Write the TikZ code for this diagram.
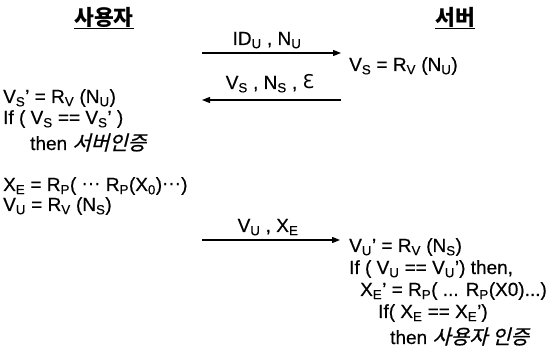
\documentclass[tikz,border=0pt]{standalone}
\usepackage{fontspec}
\setmainfont{Liberation Sans}[FakeBold=0.4]
\newfontfamily\kr{Noto Sans CJK KR}
\newfontfamily\krit{Noto Sans CJK KR}[FakeSlant=0.25,FakeBold=0.8]
\newfontfamily\dv{DejaVu Sans}
\usetikzlibrary{arrows.meta}
\newcommand{\lo}[1]{\textsubscript{#1}}
\begin{document}
\begin{tikzpicture}[x=1pt,y=-1pt,
  txt/.style={anchor=base west,inner sep=0pt,font=\fontsize{19}{22}\selectfont},
  lbl/.style={anchor=base,inner sep=0pt,font=\fontsize{19}{22}\selectfont},
  head/.style={anchor=base,inner sep=0pt,font=\fontsize{21.5}{24}\selectfont\kr\bfseries},
  kor/.style={font=\fontsize{20}{22}\selectfont\krit},
  msg/.style={line width=1.3pt,-{Triangle[length=8pt,width=6pt]}}]
\useasboundingbox (0,0) rectangle (555,363);
% headings
\node[head] (hu) at (104,26) {사용자};
\node[head] (hs) at (455,26) {서버};
\draw[line width=0.9pt] ([yshift=-2pt]hu.base west) -- ([yshift=-2pt]hu.base east);
\draw[line width=0.9pt] ([yshift=-2pt]hs.base west) -- ([yshift=-2pt]hs.base east);
% arrow 1
\coordinate (a1s) at (202,53);
\coordinate (a1e) at (341,53);
\draw[msg] (a1s) -- (a1e);
\node[lbl] (l1) at (267,45) {ID\lo{U} , N\lo{U}};
\node[txt] (s1) at (349,71) {V\lo{S} = R\lo{V} (N\lo{U})};
% arrow 2
\coordinate (a2s) at (341,100);
\coordinate (a2e) at (202,100);
\draw[msg] (a2s) -- (a2e);
\node[lbl] (l2) at (270,89) {V\lo{S} , N\lo{S} , {\dv Ɛ}};
% left block 1
\node[txt] (u1) at (3,103) {V\lo{S}’ = R\lo{V} (N\lo{U})};
\node[txt] (u2) at (3,124) {If ( V\lo{S} == V\lo{S}’ )};
\node[txt] (u3) at (30,150) {then {\fontsize{20}{22}\selectfont\krit 서버인증}};
% left block 2
\node[txt] (u4) at (3,191) {X\lo{E} = R\lo{P}( {\dv ⋯} R\lo{P}(X\lo{0}){\dv ⋯})};
\node[txt] (u5) at (3,211) {V\lo{U} = R\lo{V} (N\lo{S})};
% arrow 3
\coordinate (a3s) at (202,240);
\coordinate (a3e) at (340,240);
\draw[msg] (a3s) -- (a3e);
\node[lbl] (l3) at (268,232) {V\lo{U} , X\lo{E}};
% right block
\node[txt] (r1) at (349,252) {V\lo{U}’ = R\lo{V} (N\lo{S})};
\node[txt] (r2) at (349,274) {If ( V\lo{U} == V\lo{U}’) then,};
\node[txt] (r3) at (360,296) {X\lo{E}’ = R\lo{P}( ... R\lo{P}(X0)...)};
\node[txt] (r4) at (378,318) {If( X\lo{E} == X\lo{E}’)};
\node[txt] (r5) at (390,344) {then {\fontsize{20}{22}\selectfont\krit 사용자 인증}};
\end{tikzpicture}
\end{document}
